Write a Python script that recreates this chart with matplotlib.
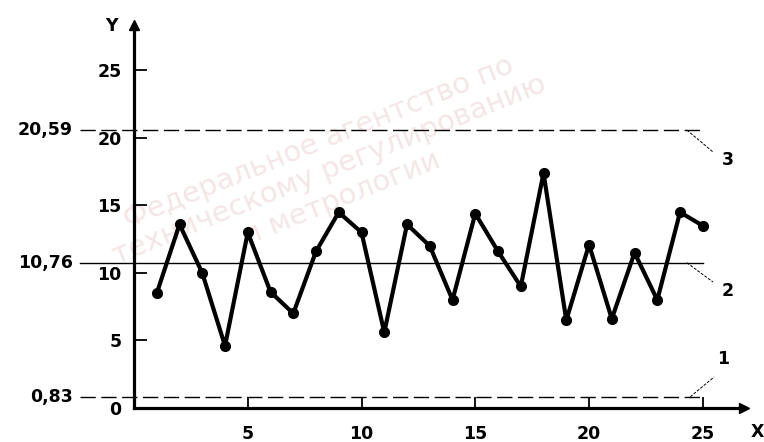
import numpy as np
import matplotlib.pyplot as plt

# sample number and measured value
x_vals = list(range(1, 26))
y_vals = [8.5, 13.6, 10.0, 4.6, 13.0, 8.6, 7.0, 11.6, 14.5, 13.0,
          5.6, 13.6, 12.0, 8.0, 14.4, 11.6, 9.0, 17.4, 6.5, 12.1,
          6.6, 11.5, 8.0, 14.5, 13.5]

# control limits: lower (1), centre (2), upper (3)
lcl, cl, ucl = 0.83, 10.76, 20.59
limit_labels = ['0,83', '10,76', '20,59']
x_ticks = [5, 10, 15, 20, 25]
y_ticks = [0, 5, 10, 15, 20, 25]

fig = plt.figure(figsize=(7.64, 4.42), dpi=100)
ax = fig.add_axes([0, 0, 1, 1])
ax.set_xlim(-5.89, 27.69)
ax.set_ylim(-2.52, 30.22)

font = dict(family='DejaVu Sans', fontweight='bold', fontsize=12.5)

# faint watermark
ax.text(8.6, 17.6, 'Федеральное агентство по\nтехническому регулированию\nи метрологии',
        rotation=22, color='#f4e6e6', fontsize=21, ha='center', va='center',
        linespacing=1.1, zorder=0)

# axes as spines through the origin
for side in ['top', 'right']:
    ax.spines[side].set_visible(False)
ax.spines['left'].set_position(('data', 0))
ax.spines['bottom'].set_position(('data', 0))
ax.spines['left'].set_bounds(0, 28.4)
ax.spines['bottom'].set_bounds(0, 26.8)
for side in ['left', 'bottom']:
    ax.spines[side].set_linewidth(2.3)
ax.plot([0], [28.4], marker='^', color='k', ms=7, clip_on=False)
ax.plot([26.8], [0], marker='>', color='k', ms=7, clip_on=False)

ax.set_xticks(x_ticks)
ax.set_yticks(y_ticks)
ax.set_xticklabels([str(t) for t in x_ticks], **font)
ax.set_yticklabels([str(t) for t in y_ticks], **font)
ax.tick_params(axis='x', direction='in', length=8, width=1.3, pad=12)
ax.tick_params(axis='y', direction='in', length=9, width=1.3, pad=9)

ax.text(-1.0, 28.3, 'Y', ha='center', va='center', **font)
ax.text(27.4, -1.8, 'X', ha='center', va='center', **font)

# limit lines
x0 = -2.37
ax.plot([x0, 25], [ucl, ucl], color='k', lw=1.0, ls=(0, (11, 4)))
ax.plot([x0, 25], [cl, cl], color='k', lw=1.0)
ax.plot([x0, 25], [lcl, lcl], color='k', lw=1.0, ls=(0, (11, 4)))
for val, lab in zip([lcl, cl, ucl], limit_labels):
    ax.text(-2.68, val, lab, ha='right', va='center', **font)

# leader lines with numbers
leaders = [((24.3, ucl), (25.45, 18.96), (26.1, 18.4), '3'),
           ((24.3, cl), (25.45, 9.33), (26.1, 8.7), '2'),
           ((24.45, lcl), (25.5, 2.3), (25.9, 3.6), '1')]
for start, end, pos, lab in leaders:
    ax.plot([start[0], end[0]], [start[1], end[1]], color='k', lw=0.7, ls=(0, (3, 1.5)))
    ax.text(pos[0], pos[1], lab, ha='center', va='center', **font)

# data series
ax.plot(x_vals, y_vals, color='k', lw=3, marker='o', ms=7, zorder=5)

fig.savefig('out.png', dpi=100)
